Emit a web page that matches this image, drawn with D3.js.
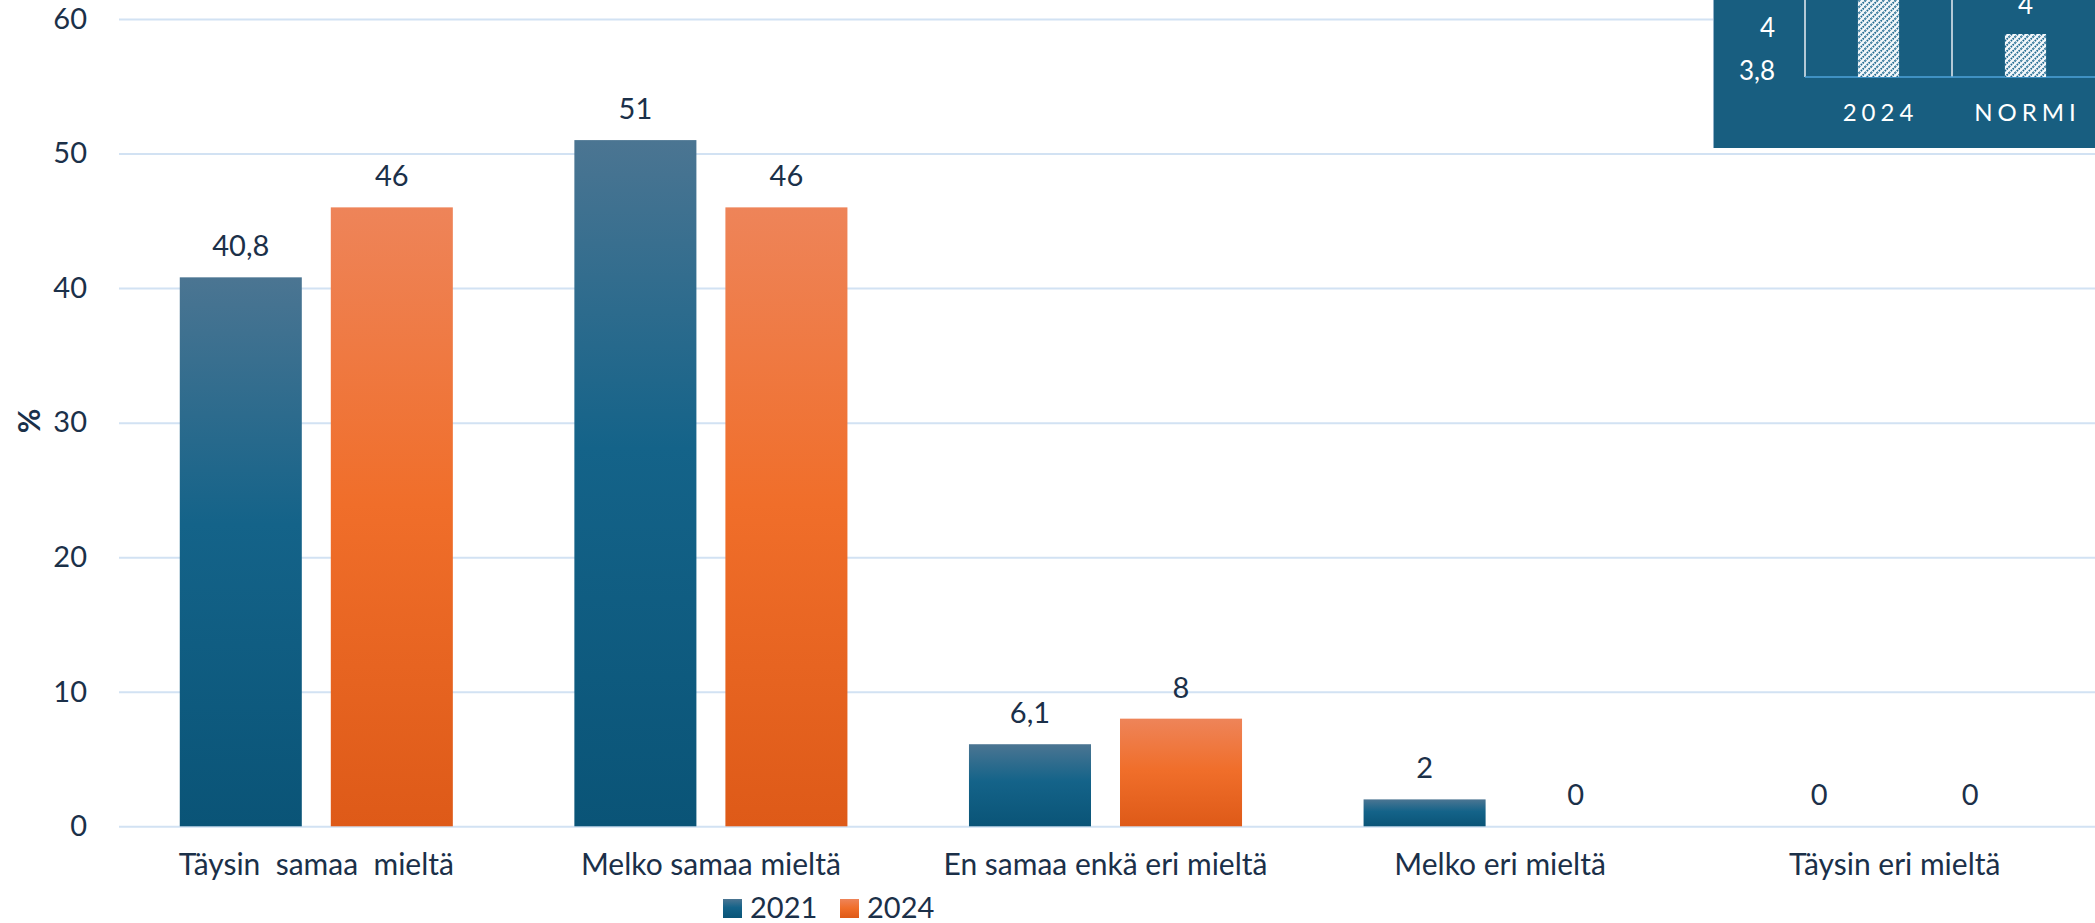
<!DOCTYPE html>
<html>
<head>
<meta charset="utf-8">
<script src="https://cdn.jsdelivr.net/npm/d3@7"></script>
<style>
body { margin: 0; background: #fff; }
svg { display: block; font-family: Lato, "Open Sans", sans-serif; }
</style>
</head>
<body>
<script>
var width = 2095
var height = 923

// main chart data
var categories = ["Täysin  samaa  mieltä", "Melko samaa mieltä", "En samaa enkä eri mieltä", "Melko eri mieltä", "Täysin eri mieltä"]
var series = ["2021", "2024"]
var values2021 = [40.8, 51, 6.1, 2, 0]
var values2024 = [46, 46, 8, 0, 0]
var yTicks = [0, 10, 20, 30, 40, 50, 60]

// small inset in the corner
var insetCats = ["2024", "NORMI"]
var insetValues = [4.3, 4]
var insetTicks = [3.8, 4]

var textColor = "#1b3049"

var svg = d3.select("body").append("svg")
  .attr("width", width)
  .attr("height", height)

var defs = svg.append("defs")

function gradient(id, stops) {
  var g = defs.append("linearGradient").attr("id", id)
    .attr("x1", 0).attr("y1", 0).attr("x2", 0).attr("y2", 1)
  stops.forEach(function(s) {
    g.append("stop").attr("offset", s[0]).attr("stop-color", s[1])
  })
}
gradient("grad2021", [["0%", "#4b7592"], ["45%", "#146389"], ["100%", "#0a5477"]])
gradient("grad2024", [["0%", "#ee8459"], ["48%", "#f06e2a"], ["100%", "#de5a18"]])

var hatch = defs.append("pattern").attr("id", "hatch")
  .attr("patternUnits", "userSpaceOnUse")
  .attr("width", 6).attr("height", 6)
hatch.append("rect").attr("width", 6).attr("height", 6).attr("fill", "#f4f8fb")
hatch.append("path").attr("d", "M-1,7 L7,-1 M-1,1 L1,-1 M5,7 L7,5")
  .attr("stroke", "#1f6990").attr("stroke-width", 1.9).attr("stroke-dasharray", "1.6,1")

var x = d3.scaleBand()
  .domain(categories)
  .range([119, 2092])
  .paddingInner(0.308)
  .paddingOuter(0.154)

var xs = d3.scaleBand()
  .domain(series)
  .range([0, x.bandwidth()])
  .paddingInner(0.192)

var y = d3.scaleLinear()
  .domain([0, 60])
  .range([826.3, 19])

// gridlines
var grid = svg.append("g")
  .attr("transform", "translate(119,0)")
  .call(d3.axisLeft(y).tickValues(yTicks).tickSize(-1976).tickFormat(""))
grid.select(".domain").remove()
grid.selectAll("line").attr("stroke", "#d2e2f3").attr("stroke-width", 2)

// y labels
var yAxis = svg.append("g")
  .attr("transform", "translate(87,0)")
  .call(d3.axisLeft(y).tickValues(yTicks).tickSize(0).tickPadding(0))
yAxis.select(".domain").remove()
yAxis.selectAll("text")
  .attr("fill", textColor)
  .style("font-family", "Lato, sans-serif")
  .style("font-size", "29px")

svg.append("text")
  .attr("transform", "translate(29,421) rotate(-90)")
  .attr("text-anchor", "middle")
  .attr("dy", "0.35em")
  .attr("fill", textColor)
  .style("font-size", "30px")
  .style("font-weight", "bold")
  .text("%")

// bars
var rows = categories.map(function(c, i) {
  return [{cat: c, s: "2021", v: values2021[i]}, {cat: c, s: "2024", v: values2024[i]}]
})

var groups = svg.append("g").selectAll("g")
  .data(rows)
  .enter().append("g")
  .attr("transform", function(d) { return "translate(" + x(d[0].cat) + ",0)" })

groups.selectAll("rect")
  .data(function(d) { return d })
  .enter().append("rect")
  .attr("x", function(d) { return xs(d.s) })
  .attr("width", xs.bandwidth())
  .attr("y", function(d) { return y(d.v) })
  .attr("height", function(d) { return y(0) - y(d.v) })
  .attr("fill", function(d) { return "url(#grad" + d.s + ")" })

groups.selectAll("text")
  .data(function(d) { return d })
  .enter().append("text")
  .attr("x", function(d) { return xs(d.s) + xs.bandwidth() / 2 })
  .attr("y", function(d) { return y(d.v) - 21 })
  .attr("text-anchor", "middle")
  .attr("fill", textColor)
  .style("font-size", "29px")
  .text(function(d) { return String(d.v).replace(".", ",") })

// category labels
var xAxis = svg.append("g")
  .attr("transform", "translate(0,826.3)")
  .call(d3.axisBottom(x).tickSize(0).tickPadding(27))
xAxis.select(".domain").remove()
xAxis.selectAll("text")
  .attr("fill", textColor)
  .style("font-family", "Lato, sans-serif")
  .style("font-size", "30px")
  .style("white-space", "pre")

// legend
var legend = svg.append("g").selectAll("g")
  .data(series)
  .enter().append("g")
  .attr("transform", function(d, i) { return "translate(" + (723 + i * 117) + ",899)" })
legend.append("rect")
  .attr("width", 19).attr("height", 19)
  .attr("fill", function(d) { return "url(#grad" + d + ")" })
legend.append("text")
  .attr("x", 27).attr("y", 19)
  .attr("fill", textColor)
  .style("font-size", "29px")
  .text(function(d) { return d })

// inset box
var inset = svg.append("g")
defs.append("clipPath").attr("id", "insetClip")
  .append("rect").attr("x", 1713).attr("y", 0).attr("width", 382).attr("height", 148)
inset.attr("clip-path", "url(#insetClip)")
inset.append("rect")
  .attr("x", 1713).attr("y", 0).attr("width", 382).attr("height", 148)
  .attr("fill", "#185e80")
inset.append("line")
  .attr("x1", 1713.5).attr("x2", 1713.5).attr("y1", 0).attr("y2", 148)
  .attr("stroke", "#8fb0c8").attr("stroke-width", 1)

var ix = d3.scaleBand()
  .domain(insetCats)
  .range([1805, 2099])
  .paddingInner(0.72)
  .paddingOuter(0.36)

var iy = d3.scaleLinear()
  .domain([3.8, 4])
  .range([77, 34])

inset.selectAll(".sep")
  .data(insetCats)
  .enter().append("line")
  .attr("class", "sep")
  .attr("x1", function(d) { return ix(d) - ix.step() * 0.36 })
  .attr("x2", function(d) { return ix(d) - ix.step() * 0.36 })
  .attr("y1", 0).attr("y2", iy(3.8))
  .attr("stroke", "#e8eef3").attr("stroke-width", 1.5)

inset.append("line")
  .attr("x1", 1805).attr("x2", 2095)
  .attr("y1", iy(3.8)).attr("y2", iy(3.8))
  .attr("stroke", "#4da3da").attr("stroke-width", 1.5)

inset.selectAll(".ibar")
  .data(insetValues)
  .enter().append("rect")
  .attr("class", "ibar")
  .attr("x", function(d, i) { return ix(insetCats[i]) })
  .attr("width", ix.bandwidth())
  .attr("y", function(d) { return iy(d) })
  .attr("height", function(d) { return iy(3.8) - iy(d) })
  .attr("fill", "url(#hatch)")

inset.selectAll(".ival")
  .data(insetValues)
  .enter().append("text")
  .attr("class", "ival")
  .attr("x", function(d, i) { return ix(insetCats[i]) + ix.bandwidth() / 2 })
  .attr("y", function(d) { return iy(d) - 20 })
  .attr("text-anchor", "middle")
  .attr("fill", "#ffffff")
  .style("font-size", "26px")
  .text(function(d) { return String(d).replace(".", ",") })

inset.selectAll(".itick")
  .data(insetTicks)
  .enter().append("text")
  .attr("class", "itick")
  .attr("x", 1775)
  .attr("y", function(d) { return iy(d) + 3 })
  .attr("text-anchor", "end")
  .attr("fill", "#ffffff")
  .style("font-size", "26px")
  .text(function(d) { return String(d).replace(".", ",") })

inset.selectAll(".icat")
  .data(insetCats)
  .enter().append("text")
  .attr("class", "icat")
  .attr("x", function(d) { return ix(d) + ix.bandwidth() / 2 + 2 })
  .attr("y", 121)
  .attr("text-anchor", "middle")
  .attr("fill", "#ffffff")
  .style("font-size", "24px")
  .style("letter-spacing", "5px")
  .text(function(d) { return d })
</script>
</body>
</html>
